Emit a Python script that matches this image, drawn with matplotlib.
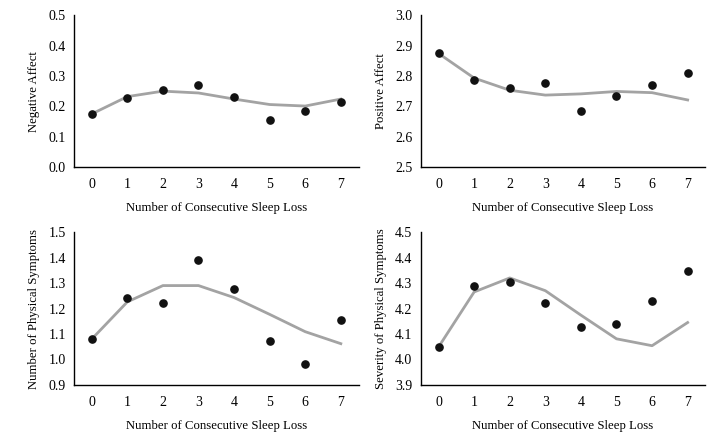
import matplotlib
matplotlib.use('Agg')
import matplotlib.pyplot as plt

plt.rcParams['font.family'] = ['Liberation Serif', 'DejaVu Serif']

x = [0, 1, 2, 3, 4, 5, 6, 7]
x_label = 'Number of Consecutive Sleep Loss'

# observed means (dots) and fitted curve (grey line)
neg_obs = [0.175, 0.226, 0.253, 0.270, 0.231, 0.155, 0.186, 0.215]
neg_fit = [0.175, 0.232, 0.250, 0.244, 0.224, 0.206, 0.201, 0.224]

pos_obs = [2.877, 2.786, 2.761, 2.776, 2.686, 2.733, 2.771, 2.809]
pos_fit = [2.874, 2.793, 2.753, 2.737, 2.741, 2.749, 2.745, 2.721]

num_obs = [1.080, 1.242, 1.220, 1.390, 1.277, 1.071, 0.983, 1.153]
num_fit = [1.080, 1.226, 1.290, 1.290, 1.243, 1.177, 1.109, 1.062]

sev_obs = [4.049, 4.287, 4.303, 4.220, 4.127, 4.139, 4.229, 4.347]
sev_fit = [4.049, 4.265, 4.320, 4.270, 4.174, 4.081, 4.054, 4.145]

panels = [
    ('Negative Affect', neg_obs, neg_fit, (0.0, 0.5), [0.0, 0.1, 0.2, 0.3, 0.4, 0.5]),
    ('Positive Affect', pos_obs, pos_fit, (2.5, 3.0), [2.5, 2.6, 2.7, 2.8, 2.9, 3.0]),
    ('Number of Physical Symptoms', num_obs, num_fit, (0.9, 1.5), [0.9, 1.0, 1.1, 1.2, 1.3, 1.4, 1.5]),
    ('Severity of Physical Symptoms', sev_obs, sev_fit, (3.9, 4.5), [3.9, 4.0, 4.1, 4.2, 4.3, 4.4, 4.5]),
]

# axes rectangles in figure fractions
rects = [
    [0.1016, 0.614, 0.391, 0.351],
    [0.578, 0.614, 0.391, 0.351],
    [0.1016, 0.111, 0.391, 0.353],
    [0.578, 0.111, 0.391, 0.353],
]

fig = plt.figure(figsize=(7.28, 4.33), dpi=100)

for (ylab, obs, fit, ylim, yt), r in zip(panels, rects):
    ax = fig.add_axes(r)
    ax.plot(x, fit, color='#a3a3a3', linewidth=2.0, zorder=1)
    ax.plot(x, obs, 'o', color='#111111', markersize=5.2, zorder=2)
    ax.set_xlim(-0.5, 7.5)
    ax.set_ylim(*ylim)
    ax.set_yticks(yt)
    ax.set_yticklabels(['%.1f' % v for v in yt])
    ax.set_xticks(x)
    ax.tick_params(axis='y', length=0, labelsize=10, pad=6)
    ax.tick_params(axis='x', length=0, labelsize=10, pad=8)
    ax.spines['top'].set_visible(False)
    ax.spines['right'].set_visible(False)
    ax.spines['left'].set_linewidth(1.0)
    ax.spines['bottom'].set_linewidth(1.0)
    ax.set_ylabel(ylab, fontsize=9.2, labelpad=6)
    ax.set_xlabel(x_label, fontsize=9.2, labelpad=8)

plt.savefig('out.png', dpi=100)
